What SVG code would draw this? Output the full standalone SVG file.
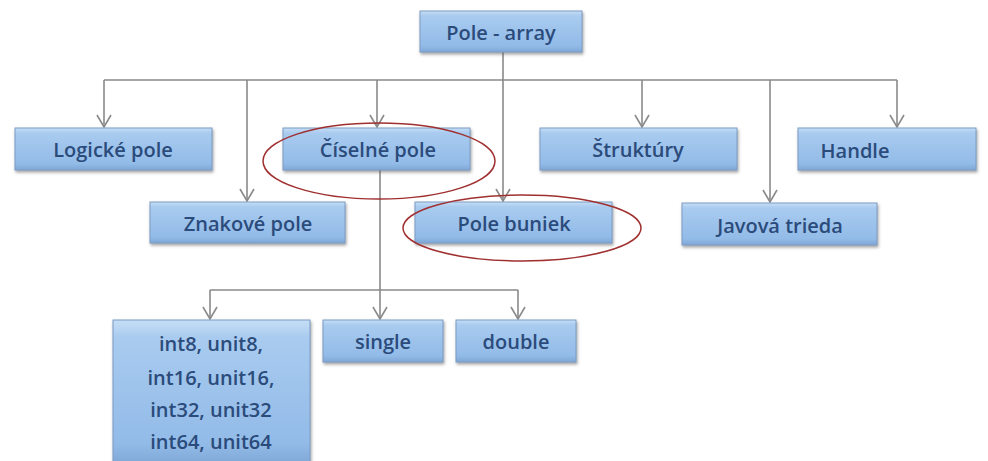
<svg xmlns="http://www.w3.org/2000/svg" width="988" height="461" viewBox="0 0 988 461">
<defs>
<linearGradient id="g" x1="0" y1="0" x2="0" y2="1">
<stop offset="0" stop-color="#c6def6"/>
<stop offset="0.12" stop-color="#a9cbef"/>
<stop offset="0.85" stop-color="#92bbe8"/>
<stop offset="1" stop-color="#7fa7d6"/>
</linearGradient>
<filter id="sh" x="-10%" y="-20%" width="120%" height="150%">
<feDropShadow dx="1" dy="2" stdDeviation="1.5" flood-color="#555" flood-opacity="0.55"/>
</filter>
<marker id="ah" markerWidth="14" markerHeight="16" refX="13" refY="8" orient="auto" markerUnits="userSpaceOnUse" viewBox="0 0 14 16">
<path d="M1,1 L13,8 L1,15" fill="none" stroke="#8a8a8a" stroke-width="1.6"/>
</marker>
</defs>
<style>
.box{fill:url(#g);stroke:#7d9cc4;stroke-width:1;filter:url(#sh)}
.t{font-family:"Open Sans","Liberation Sans",sans-serif;font-size:20px;font-weight:600;fill:#2b4b7b;text-anchor:middle;dominant-baseline:central}
.c{fill:none;stroke:#8a8a8a;stroke-width:1.6}
.ell{fill:none;stroke:#a03030;stroke-width:1.5}
</style>
<rect width="988" height="461" fill="#ffffff"/>
<g id="connectors">
<path class="c" d="M503,52 V80"/>
<path class="c" d="M104,80 H897"/>
<path class="c" d="M104,80 V127" marker-end="url(#ah)"/>
<path class="c" d="M247,80 V201" marker-end="url(#ah)"/>
<path class="c" d="M377,80 V127" marker-end="url(#ah)"/>
<path class="c" d="M503,80 V201" marker-end="url(#ah)"/>
<path class="c" d="M642,80 V127" marker-end="url(#ah)"/>
<path class="c" d="M770,80 V202" marker-end="url(#ah)"/>
<path class="c" d="M897,80 V127" marker-end="url(#ah)"/>
<path class="c" d="M380,170 V290"/>
<path class="c" d="M210,290 H518"/>
<path class="c" d="M210,290 V319" marker-end="url(#ah)"/>
<path class="c" d="M380,290 V319" marker-end="url(#ah)"/>
<path class="c" d="M518,290 V319" marker-end="url(#ah)"/>
</g>
<g id="n-root"><rect class="box" x="420" y="11" width="162" height="41"/><text class="t" x="501" y="32">Pole - array</text></g>
<g id="n-logicke"><rect class="box" x="15" y="128" width="197" height="42"/><text class="t" x="113" y="149">Logické pole</text></g>
<g id="n-ciselne"><rect class="box" x="283" y="128" width="187" height="42"/><text class="t" x="378" y="149">Číselné  pole</text></g>
<g id="n-struktury"><rect class="box" x="540" y="128" width="197" height="42"/><text class="t" x="638" y="149">Štruktúry</text></g>
<g id="n-handle"><rect class="box" x="798" y="128" width="178" height="42"/><text class="t" x="855" y="150">Handle</text></g>
<g id="n-znakove"><rect class="box" x="150" y="202" width="195" height="41"/><text class="t" x="248" y="223">Znakové pole</text></g>
<g id="n-buniek"><rect class="box" x="415" y="202" width="197" height="41"/><text class="t" x="514" y="223">Pole buniek</text></g>
<g id="n-javova"><rect class="box" x="682" y="203" width="195" height="42"/><text class="t" x="780" y="225">Javová trieda</text></g>
<g id="n-int"><rect class="box" x="113" y="320" width="197" height="145"/>
<text class="t" x="211" y="343">int8, unit8,</text>
<text class="t" x="211" y="377">int16, unit16,</text>
<text class="t" x="211" y="409">int32, unit32</text>
<text class="t" x="211" y="441">int64, unit64</text></g>
<g id="n-single"><rect class="box" x="323" y="320" width="120" height="42"/><text class="t" x="383" y="341">single</text></g>
<g id="n-double"><rect class="box" x="456" y="320" width="120" height="42"/><text class="t" x="516" y="341">double</text></g>
<g id="highlights">
<ellipse class="ell" cx="379" cy="161" rx="116" ry="38"/>
<ellipse class="ell" cx="522" cy="228" rx="119" ry="33"/>
</g>
</svg>
